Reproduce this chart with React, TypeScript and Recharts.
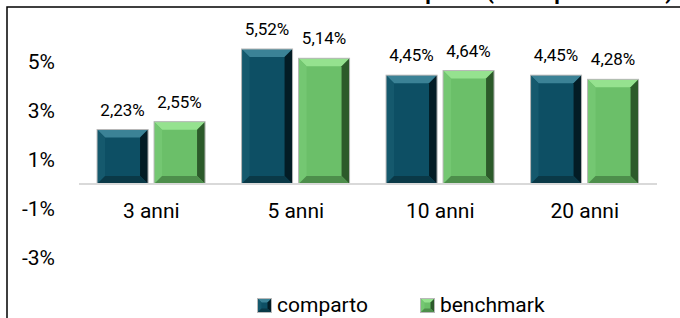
import { BarChart, Bar, XAxis, YAxis, ReferenceLine, LabelList } from "recharts";

const periods = ["3 anni", "5 anni", "10 anni", "20 anni"];
const comparto = [2.23, 5.52, 4.45, 4.45];
const benchmark = [2.55, 5.14, 4.64, 4.28];
const yTicks = [-3, -1, 1, 3, 5];

const data = periods.map((p, i) => ({ period: p, comparto: comparto[i], benchmark: benchmark[i] }));

type Palette = { face: string; top: string; left: string; right: string; bottom: string };

const tealPal: Palette = { face: "#0d4f64", top: "#3b8296", left: "#15596d", right: "#031c25", bottom: "#0a3947" };
const greenPal: Palette = { face: "#6bbf69", top: "#95e28f", left: "#74c772", right: "#2c5a2a", bottom: "#4d8e4b" };

function bevelPaths(x: number, y: number, w: number, h: number, b: number, pal: Palette) {
  const bb = Math.min(b, w / 2, h / 2);
  return (
    <g>
      <rect x={x} y={y} width={w} height={h} fill={pal.face} />
      <polygon points={`${x},${y} ${x + w},${y} ${x + w - bb},${y + bb} ${x + bb},${y + bb}`} fill={pal.top} />
      <polygon points={`${x},${y} ${x + bb},${y + bb} ${x + bb},${y + h - bb} ${x},${y + h}`} fill={pal.left} />
      <polygon points={`${x + w},${y} ${x + w},${y + h} ${x + w - bb},${y + h - bb} ${x + w - bb},${y + bb}`} fill={pal.right} />
      <polygon points={`${x},${y + h} ${x + bb},${y + h - bb} ${x + w - bb},${y + h - bb} ${x + w},${y + h}`} fill={pal.bottom} />
      <rect x={x} y={y} width={w} height={h} fill="none" stroke="#b8b8b8" strokeWidth={1} />
    </g>
  );
}

const makeBevel = (pal: Palette) => (props: any) => {
  const { x, y, width, height } = props;
  return bevelPaths(x, y, width, height, 8, pal);
};

const fmt = (v: any) => `${Number(v).toFixed(2).replace(".", ",")}%`;

function CategoryTick(props: any) {
  const { x, y, payload } = props;
  return (
    <text x={x} y={y - 72} textAnchor="middle" fontSize={21} fill="#000" fontFamily="Roboto">
      {payload.value}
    </text>
  );
}

function LegendBox() {
  const items = [
    { label: "comparto", pal: tealPal },
    { label: "benchmark", pal: greenPal },
  ];
  return (
    <div
      style={{
        position: "absolute",
        top: 293,
        left: 257,
        display: "flex",
        alignItems: "center",
        gap: 52,
        fontFamily: "Roboto",
        fontSize: 21,
        lineHeight: "24px",
      }}
    >
      {items.map((it) => (
        <div key={it.label} style={{ display: "flex", alignItems: "center", gap: 5 }}>
          <svg width={15} height={15}>{bevelPaths(0.5, 0.5, 14, 14, 4, it.pal)}</svg>
          <span>{it.label}</span>
        </div>
      ))}
    </div>
  );
}

export default function App() {
  return (
    <div style={{ position: "absolute", left: 0, top: 0, width: 680, height: 318, background: "#fff", overflow: "hidden" }}>
      <svg width={680} height={318} style={{ position: "absolute", left: 0, top: 0 }}>
        <text x={673} y={-1} textAnchor="end" fontSize={22} fontWeight="bold" fontFamily="Roboto" fill="#000">
          Rendimento netto medio annuo composto (valori percentuali)
        </text>
        <rect x={7} y={7} width={700} height={400} fill="none" stroke="#000" strokeWidth={1.5} />
      </svg>
      <div style={{ position: "absolute", left: 0, top: 0 }}>
        <BarChart
          width={680}
          height={318}
          data={data}
          margin={{ top: 25, right: 23, bottom: 6, left: 9 }}
          barCategoryGap="12.5%"
          barGap={6}
        >
          <XAxis dataKey="period" axisLine={false} tickLine={false} height={30} tick={<CategoryTick />} interval={0} />
          <YAxis
            domain={[-4, 6.5]}
            ticks={yTicks}
            width={70}
            axisLine={false}
            tickLine={false}
            tickMargin={18}
            tickFormatter={(v) => `${v}%`}
            tick={{ fill: "#000", fontSize: 21, fontFamily: "Roboto" }}
          />
          <ReferenceLine y={0} stroke="#d9d9d9" strokeWidth={2} />
          <Bar dataKey="comparto" name="comparto" fill={tealPal.face} shape={makeBevel(tealPal)} isAnimationActive={false}>
            <LabelList dataKey="comparto" position="top" offset={14} formatter={fmt} fill="#000" fontSize={17} fontFamily="Roboto" />
          </Bar>
          <Bar dataKey="benchmark" name="benchmark" fill={greenPal.face} shape={makeBevel(greenPal)} isAnimationActive={false}>
            <LabelList dataKey="benchmark" position="top" offset={14} formatter={fmt} fill="#000" fontSize={17} fontFamily="Roboto" />
          </Bar>
        </BarChart>
      </div>
      <LegendBox />
    </div>
  );
}
